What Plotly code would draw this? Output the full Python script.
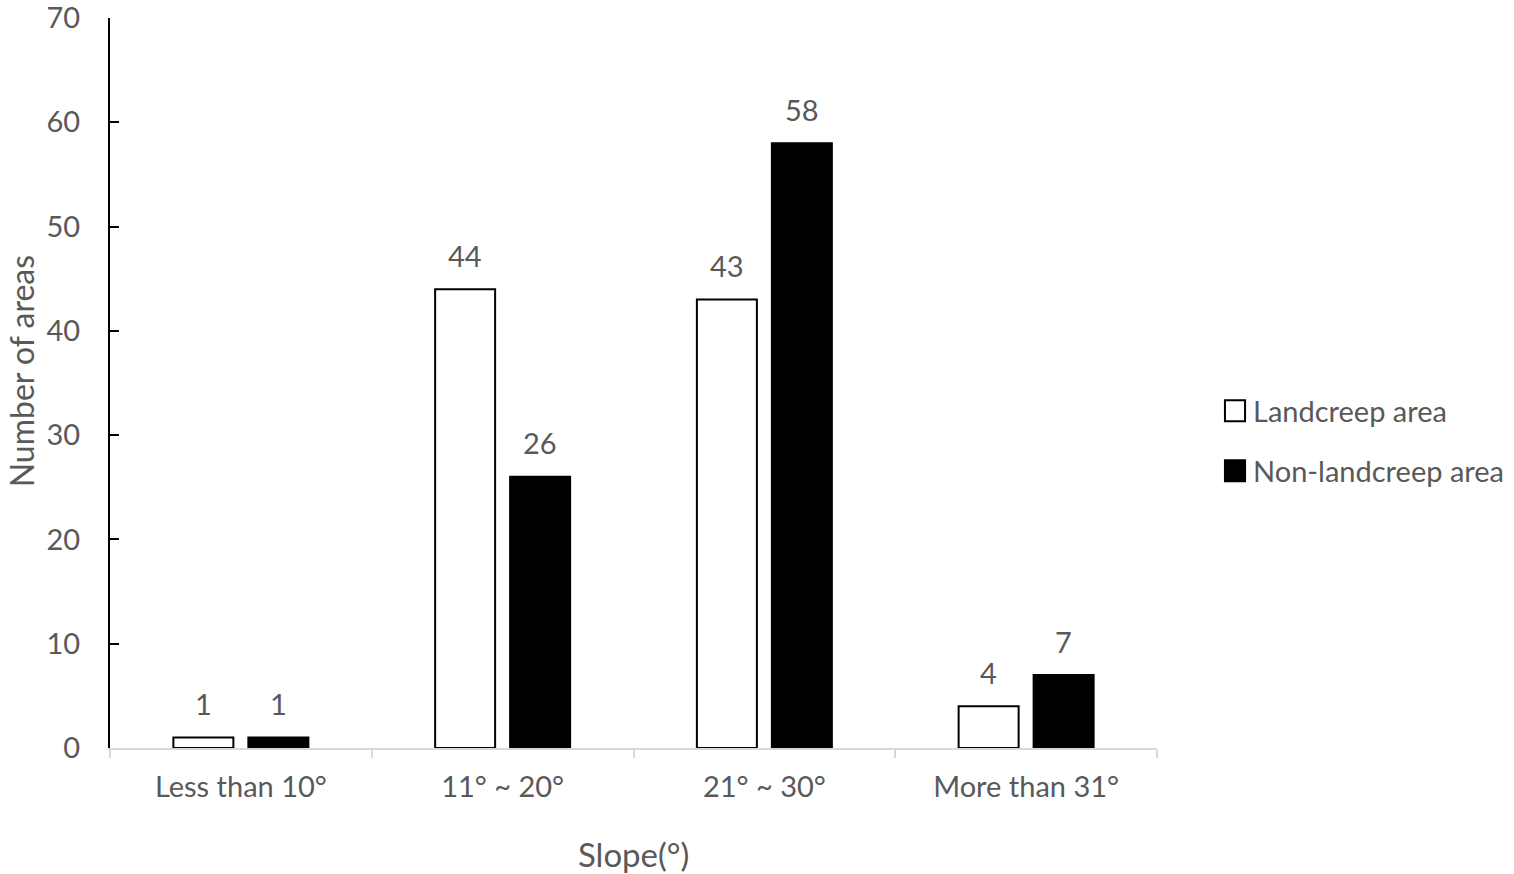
import plotly.graph_objects as go

categories = ["Less than 10°", "11° ~ 20°", "21° ~ 30°", "More than 31°"]
landcreep = [1, 44, 43, 4]
non_landcreep = [1, 26, 58, 7]
series_names = ["Landcreep area", "Non-landcreep area"]
x_title = "Slope(°)"
y_title = "Number of areas"

TXT = "#595959"
FONT = "Lato"
FS = 29

fig = go.Figure()
fig.add_trace(go.Bar(x=categories, y=landcreep, name=series_names[0],
                     marker=dict(color="white", line=dict(color="black", width=2))))
fig.add_trace(go.Bar(x=categories, y=non_landcreep, name=series_names[1],
                     marker=dict(color="black", line=dict(color="black", width=2))))

annotations = []
for vals, shift in ((landcreep, -37.5), (non_landcreep, 37.5)):
    for c, v in zip(categories, vals):
        annotations.append(dict(x=c, y=v, text=str(v), showarrow=False,
                                xshift=shift, yshift=34, yanchor="middle",
                                font=dict(family=FONT, size=FS, color=TXT)))

# axis titles
annotations.append(dict(xref="paper", yref="paper", x=0.5, y=0, yshift=-106,
                        text=x_title, showarrow=False, yanchor="middle",
                        font=dict(family=FONT, size=33, color=TXT)))
annotations.append(dict(xref="paper", yref="paper", x=0, xshift=-89, y=0.516,
                        text=y_title, showarrow=False, textangle=-90,
                        xanchor="center", yanchor="middle", borderpad=0,
                        font=dict(family=FONT, size=32, color=TXT)))

# manual legend
shapes = []
leg_items = [(series_names[0], "white", 0.4763, 0.4475),
             (series_names[1], "black", 0.3941, 0.3653)]
for name, col, ytop, ybot in leg_items:
    shapes.append(dict(type="rect", xref="paper", yref="paper",
                       x0=1.0649, x1=1.0841, y0=ybot, y1=ytop,
                       fillcolor=col, line=dict(color="black", width=2)))
    annotations.append(dict(xref="paper", yref="paper", x=1.0900,
                            y=(ytop + ybot) / 2, text=name, showarrow=False,
                            xanchor="left", yanchor="middle",
                            font=dict(family=FONT, size=FS, color=TXT)))

fig.update_layout(
    width=1514, height=874,
    margin=dict(l=110, r=357, t=18, b=126),
    plot_bgcolor="white", paper_bgcolor="white",
    barmode="group", bargap=0.427, bargroupgap=0.2,
    font=dict(family=FONT, size=FS, color=TXT),
    annotations=annotations,
    shapes=shapes,
    showlegend=False,
    xaxis=dict(showline=True, linecolor="#d9d9d9", linewidth=2,
               ticks="outside", tickson="boundaries", ticklen=8,
               tickcolor="#d9d9d9", tickwidth=2, automargin=False,
               tickfont=dict(family=FONT, size=FS, color=TXT),
               ticklabelstandoff=12),
    yaxis=dict(range=[0, 70], dtick=10, showline=True, linecolor="black",
               linewidth=2, ticks="inside", ticklen=9, tickcolor="black",
               tickwidth=2, showgrid=False, zeroline=False, automargin=False,
               ticklabeloverflow="allow",
               tickfont=dict(family=FONT, size=FS, color=TXT),
               ticklabelstandoff=22),
)

fig.write_html("out.html")
